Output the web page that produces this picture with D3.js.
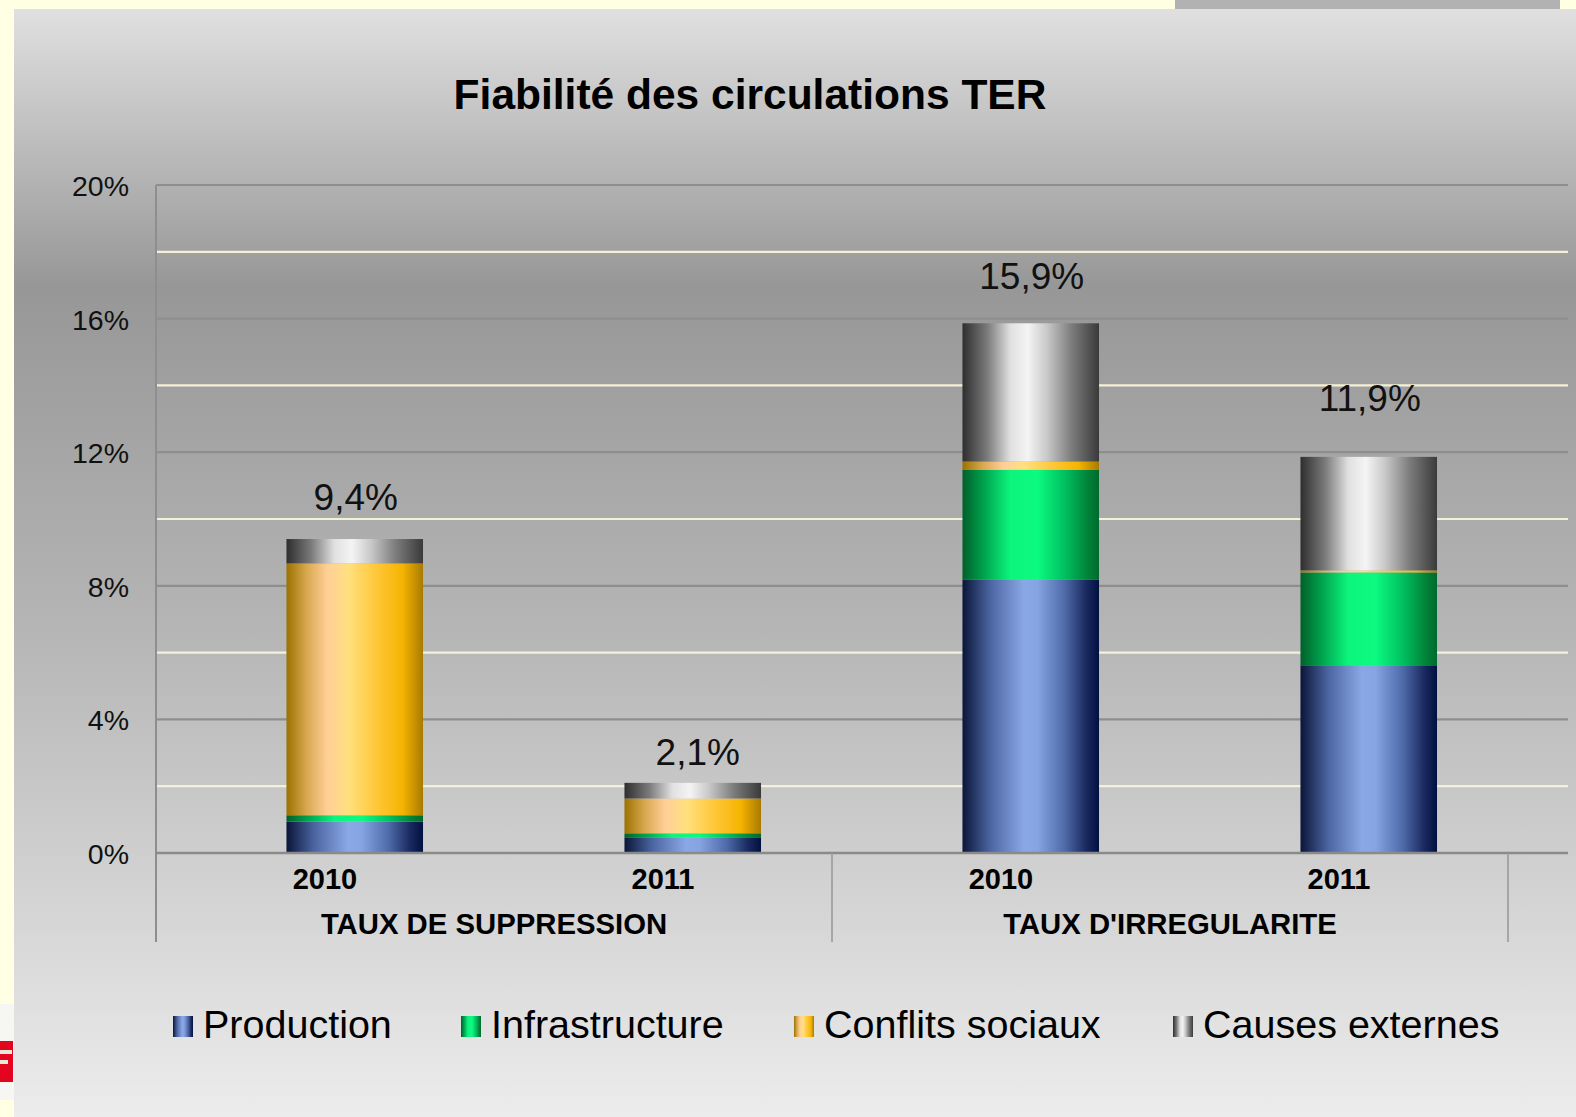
<!DOCTYPE html>
<html>
<head>
<meta charset="utf-8">
<script src="https://cdn.jsdelivr.net/npm/d3@7"></script>
<style>
  html, body { margin: 0; padding: 0; background: #ffffe3; }
  svg { display: block; }
  text { font-family: "Liberation Sans", Arial, Helvetica, sans-serif; }
</style>
</head>
<body>
<script>
// ---------- DATA ----------
const categories = ["2010", "2011", "2010", "2011"];
const groups = ["TAUX DE SUPPRESSION", "TAUX D'IRREGULARITE"];
const seriesNames = ["Production", "Infrastructure", "Conflits sociaux", "Causes externes"];
const production     = [0.94, 0.47, 8.19, 5.62];
const infrastructure = [0.19, 0.12, 3.28, 2.78];
const conflits       = [7.54, 1.04, 0.25, 0.06];
const externes       = [0.73, 0.47, 4.14, 3.40];
const totalLabels    = ["9,4%", "2,1%", "15,9%", "11,9%"];
const yTicks         = [0, 4, 8, 12, 16, 20];
const yMinorTicks    = [2, 6, 10, 14, 18];
const yTickLabels    = ["0%", "4%", "8%", "12%", "16%", "20%"];
const title = "Fiabilité des circulations TER";

// ---------- LAYOUT ----------
const W = 1576, H = 1117;
const svg = d3.select("body").append("svg").attr("width", W).attr("height", H);
const defs = svg.append("defs");

// panel background gradient
const pg = defs.append("linearGradient").attr("id", "panelGrad")
  .attr("x1", 0).attr("y1", 0).attr("x2", 0).attr("y2", 1);
[[0, "#e0e0e0"], [0.25, "#979797"], [0.55, "#b4b4b4"], [1, "#ececec"]]
  .forEach(([o, c]) => pg.append("stop").attr("offset", o).attr("stop-color", c));

// bar gradients (horizontal cylinder look)
const gradStops = {
  prod: [[0, "#0a1538"], [0.2, "#4a64a0"], [0.45, "#8aa8e6"], [0.55, "#86a4e2"], [0.75, "#4e6aa8"], [0.9, "#1c2c62"], [1, "#001040"]],
  infra: [[0, "#00602a"], [0.15, "#00a04c"], [0.35, "#0cf57c"], [0.55, "#0cfa80"], [0.75, "#00c060"], [0.92, "#008238"], [1, "#006a2e"]],
  conf: [[0, "#9a7200"], [0.15, "#d9a850"], [0.3, "#ffcf98"], [0.45, "#ffe080"], [0.65, "#ffc83c"], [0.85, "#f5b400"], [1, "#a87a00"]],
  ext: [[0, "#2e2e2e"], [0.18, "#7a7a7a"], [0.35, "#e0e0e0"], [0.48, "#f4f4f4"], [0.62, "#c8c8c8"], [0.8, "#7c7c7c"], [1, "#3a3a3a"]]
};
Object.entries(gradStops).forEach(([k, stops]) => {
  const g = defs.append("linearGradient").attr("id", "g_" + k)
    .attr("x1", 0).attr("y1", 0).attr("x2", 1).attr("y2", 0);
  stops.forEach(([o, c]) => g.append("stop").attr("offset", o).attr("stop-color", c));
});
const seriesKeys = ["prod", "infra", "conf", "ext"];

// outer page pieces
svg.append("rect").attr("x", 1175).attr("y", 0).attr("width", 385).attr("height", 9).attr("fill", "#b2b2b2");
svg.append("rect").attr("x", 14).attr("y", 9).attr("width", W - 14).attr("height", H - 9).attr("fill", "url(#panelGrad)");
// cut-off logo at left edge
svg.append("rect").attr("x", 0).attr("y", 1004).attr("width", 14).attr("height", 96).attr("fill", "#f6f6f2");
svg.append("rect").attr("x", 0).attr("y", 1041).attr("width", 13).attr("height", 41).attr("fill", "#e30520");
svg.append("rect").attr("x", 0).attr("y", 1050).attr("width", 12).attr("height", 4).attr("fill", "#e8e8d8");
svg.append("rect").attr("x", 0).attr("y", 1060).attr("width", 8).attr("height", 4).attr("fill", "#e8e8d8");

// scales
const plotLeft = 156, plotRight = 1568, catRight = 1508;
const y = d3.scaleLinear().domain([0, 20]).range([853, 185]);
const x = d3.scaleBand().domain(d3.range(categories.length)).range([plotLeft, catRight]).paddingInner(0).paddingOuter(0);
const barW = x.bandwidth() * 0.404;
const barShift = x.bandwidth() * 0.088;

// title
svg.append("text").attr("x", 750).attr("y", 109).attr("text-anchor", "middle")
  .attr("font-size", 42.5).attr("font-weight", "bold").attr("fill", "#000").text(title);

// gridlines
svg.append("g").selectAll("line").data(yMinorTicks).join("line")
  .attr("x1", plotLeft).attr("x2", plotRight)
  .attr("y1", d => y(d)).attr("y2", d => y(d))
  .attr("stroke", "#f4f2d6").attr("stroke-width", 2.2);
svg.append("g").selectAll("line").data(yTicks).join("line")
  .attr("x1", plotLeft).attr("x2", plotRight)
  .attr("y1", d => y(d)).attr("y2", d => y(d))
  .attr("stroke", "#8e8e8e").attr("stroke-width", 2.2);

// y axis labels
svg.append("g").selectAll("text").data(yTicks).join("text")
  .attr("x", 129).attr("y", d => y(d) + 11)
  .attr("text-anchor", "end").attr("font-size", 28.5).attr("fill", "#111")
  .text((d, i) => yTickLabels[i]);

// stacked bars
const table = categories.map((c, i) => ({
  i, prod: production[i], infra: infrastructure[i], conf: conflits[i], ext: externes[i]
}));
const stacked = d3.stack().keys(seriesKeys)(table);
const barsG = svg.append("g");
stacked.forEach(layer => {
  barsG.append("g").selectAll("rect").data(layer).join("rect")
    .attr("x", d => x(d.data.i) + (x.bandwidth() - barW) / 2 + barShift)
    .attr("width", barW)
    .attr("y", d => y(d[1]))
    .attr("height", d => y(d[0]) - y(d[1]))
    .attr("fill", "url(#g_" + layer.key + ")");
});

// total labels
const totals = table.map(d => d.prod + d.infra + d.conf + d.ext);
const labelLift = [29, 18, 34, 46];
svg.append("g").selectAll("text").data(totals).join("text")
  .attr("x", (d, i) => x(i) + x.bandwidth() / 2 + barShift + (i === 1 ? 5 : 1))
  .attr("y", (d, i) => y(d) - labelLift[i])
  .attr("text-anchor", "middle").attr("font-size", 37).attr("fill", "#111")
  .text((d, i) => totalLabels[i]);

// axes lines
svg.append("line").attr("x1", plotLeft).attr("x2", plotLeft).attr("y1", y(20)).attr("y2", 942)
  .attr("stroke", "#8e8e8e").attr("stroke-width", 2);
svg.append("line").attr("x1", plotLeft).attr("x2", plotRight).attr("y1", y(0)).attr("y2", y(0))
  .attr("stroke", "#8a8a8a").attr("stroke-width", 2.5);
const groupEdges = [plotLeft, x(2), catRight];
svg.append("g").selectAll("line").data(groupEdges.slice(1)).join("line")
  .attr("x1", d => d).attr("x2", d => d).attr("y1", y(0)).attr("y2", 942)
  .attr("stroke", "#9a9a9a").attr("stroke-width", 1.6);

// category labels
svg.append("g").selectAll("text").data(categories).join("text")
  .attr("x", (d, i) => x(i) + x.bandwidth() / 2).attr("y", 889)
  .attr("text-anchor", "middle").attr("font-size", 29).attr("font-weight", "bold").attr("fill", "#000")
  .text(d => d);
svg.append("g").selectAll("text").data(groups).join("text")
  .attr("x", (d, i) => (groupEdges[i] + groupEdges[i + 1]) / 2).attr("y", 934)
  .attr("text-anchor", "middle").attr("font-size", 29.3).attr("font-weight", "bold").attr("fill", "#000")
  .text(d => d);

// legend
const legendMarkX = [173, 461, 794, 1173];
const lg = svg.append("g");
seriesNames.forEach((name, i) => {
  lg.append("rect").attr("x", legendMarkX[i]).attr("y", 1016).attr("width", 20).attr("height", 21)
    .attr("fill", "url(#g_" + seriesKeys[i] + ")");
  lg.append("text").attr("x", legendMarkX[i] + 30).attr("y", 1038)
    .attr("font-size", 39.5).attr("fill", "#000").text(name);
});
</script>
</body>
</html>
